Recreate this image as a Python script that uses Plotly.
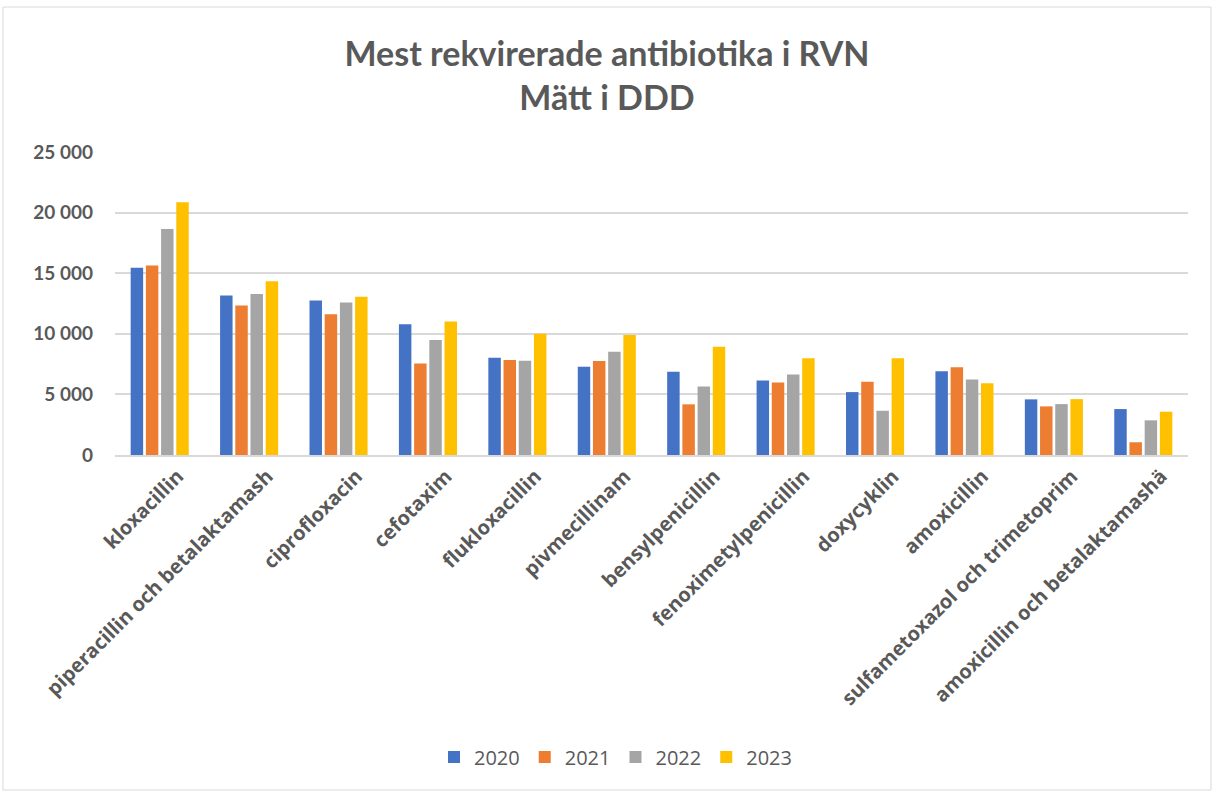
import plotly.graph_objects as go

categories = ["kloxacillin", "piperacillin och betalaktamash", "ciprofloxacin", "cefotaxim",
              "flukloxacillin", "pivmecillinam", "bensylpenicillin", "fenoximetylpenicillin",
              "doxycyklin", "amoxicillin", "sulfametoxazol och trimetoprim",
              "amoxicillin och betalaktamashä"]
years = ["2020", "2021", "2022", "2023"]
v2020 = [15450, 13160, 12750, 10790, 8020, 7280, 6870, 6150, 5190, 6920, 4590, 3790]
v2021 = [15630, 12330, 11620, 7550, 7830, 7750, 4180, 5990, 6040, 7250, 4010, 1050]
v2022 = [18650, 13290, 12580, 9480, 7770, 8510, 5660, 6650, 3650, 6230, 4200, 2860]
v2023 = [20850, 14340, 13050, 11010, 10000, 9910, 8930, 7990, 7990, 5930, 4610, 3570]
tick_vals = [0, 5000, 10000, 15000, 20000, 25000]
tick_text = ["0", "5 000", "10 000", "15 000", "20 000", "25 000"]
colors = ["#4472C4", "#ED7D31", "#A5A5A5", "#FFC000"]

font = "Lato"
grey = "#595959"

fig = go.Figure()
for y, vals, c in zip(years, [v2020, v2021, v2022, v2023], colors):
    fig.add_trace(go.Bar(name=y, x=categories, y=vals,
                         marker=dict(color=c, line=dict(width=0))))

L, R, T, B = 115, 26, 152, 338
W, H = 1214, 793
pw, ph = W - L - R, H - T - B

fig.update_layout(
    width=W, height=H,
    margin=dict(l=L, r=R, t=T, b=B),
    paper_bgcolor="white", plot_bgcolor="white",
    barmode="group", bargap=0.32, bargroupgap=0.18,
    title=dict(text="Mest rekvirerade antibiotika i RVN<br>Mätt i DDD",
               x=0.5, xref="container", xanchor="center",
               y=1 - 66 / H, yref="container", yanchor="middle",
               font=dict(family=font, size=34, color=grey, weight="bold")),
    font=dict(family=font, color=grey),
    legend=dict(orientation="h", x=0.507, xref="container", xanchor="center",
                y=1 - 757 / H, yref="container", yanchor="middle",
                font=dict(family="Open Sans", size=20, color=grey), itemwidth=30,
                traceorder="normal"),
    xaxis=dict(tickangle=-45,
               tickfont=dict(family="Open Sans", size=20, color=grey, weight="bold"),
               showline=True, linecolor="#d9d9d9", linewidth=1.5, ticks="",
               showgrid=False, ticklabelshift=18, ticklabelstandoff=0),
    yaxis=dict(range=[0, 25000], tickvals=tick_vals, ticktext=tick_text,
               tickfont=dict(family=font, size=19, color=grey, weight="bold"),
               showgrid=True, gridcolor="#d9d9d9", gridwidth=1.5, zeroline=False,
               showline=False, ticks="", ticklabelstandoff=21),
    shapes=[dict(type="rect", xref="paper", yref="paper",
                 x0=(3 - L) / pw, x1=(1211 - L) / pw,
                 y0=(H - B - 790) / ph, y1=(H - B - 7) / ph,
                 line=dict(color="#d9d9d9", width=1), fillcolor="rgba(0,0,0,0)",
                 layer="below")],
)

fig.write_html("out.html", config={"displayModeBar": False},
               post_script="document.body.style.margin='0px';")
